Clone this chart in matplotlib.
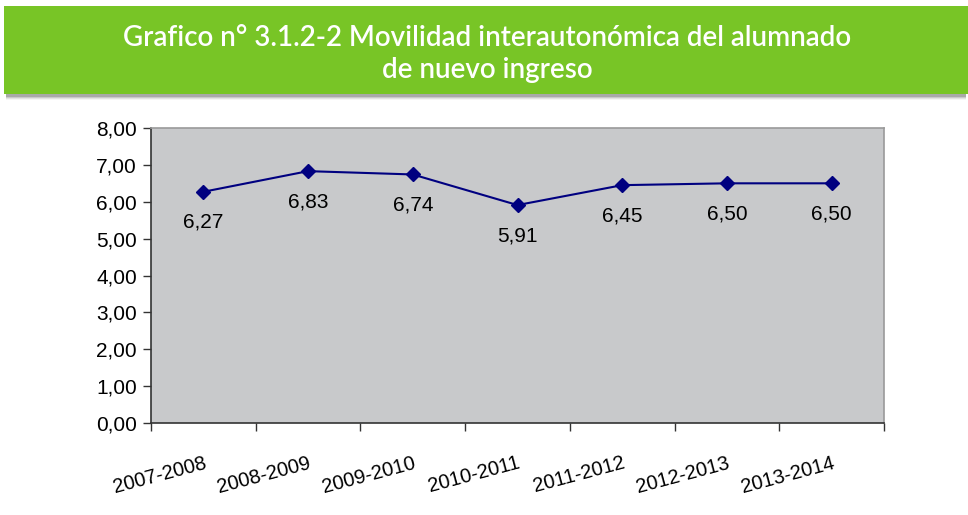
import matplotlib.pyplot as plt
from matplotlib.patches import Rectangle
import numpy as np

# Datos del gráfico
cursos = ['2007-2008', '2008-2009', '2009-2010', '2010-2011',
          '2011-2012', '2012-2013', '2013-2014']
movilidad = [6.27, 6.83, 6.74, 5.91, 6.45, 6.50, 6.50]
y_ticks = [0, 1, 2, 3, 4, 5, 6, 7, 8]

titulo = 'Grafico n° 3.1.2-2 Movilidad interautonómica del alumnado\nde nuevo ingreso'

W, H = 968, 515
fig = plt.figure(figsize=(W / 100, H / 100), dpi=100)
fig.patch.set_facecolor('white')

# Banda verde del título con sombra
for i, a in enumerate([0.04, 0.07, 0.11, 0.16]):
    fig.patches.append(Rectangle((6 / W, 1 - (96 + 4 - i) / H), (W - 8) / W, 8 / H,
                                 transform=fig.transFigure, facecolor='black',
                                 alpha=a, edgecolor='none', zorder=0))
fig.patches.append(Rectangle((4 / W, 1 - 94 / H), (W - 4) / W, 88 / H,
                             transform=fig.transFigure, facecolor='#78C526',
                             edgecolor='none', zorder=1))
fig.text(487 / W, 1 - 54 / H, titulo, ha='center', va='center', color='white',
         fontsize=20, family='Lato', fontweight='semibold', linespacing=1.3,
         zorder=2)

# Área del gráfico
ax = fig.add_axes([151 / W, 1 - 423 / H, 733 / W, 295 / H])
ax.set_facecolor('#C8C9CB')

x = np.arange(len(cursos))
ax.plot(x, movilidad, color='#000080', lw=1.5, marker='D', markersize=7,
        markerfacecolor='#000080', markeredgecolor='#000080', zorder=3)

for xi, v in zip(x, movilidad):
    ax.annotate(f'{v:.2f}'.replace('.', ','), (xi, v), xytext=(0, -22),
                textcoords='offset points', ha='center', va='center',
                fontsize=15, family='Liberation Sans', color='black')

ax.set_xlim(-0.5, len(cursos) - 0.5)
ax.set_ylim(0, 8)

# Marcas del eje x entre categorías
ax.set_xticks(np.arange(len(cursos) + 1) - 0.5)
ax.set_xticklabels([])
ax.set_xticks(x, minor=True)
ax.set_xticklabels(cursos, minor=True, rotation=15, ha='right',
                   rotation_mode='anchor', fontsize=14.5, family='Liberation Sans')
ax.tick_params(axis='x', which='minor', length=0, pad=22)
ax.tick_params(axis='x', which='major', length=6, width=1, color='#333333')

ax.set_yticks(y_ticks)
ax.set_yticklabels([f'{t:.2f}'.replace('.', ',') for t in y_ticks],
                   fontsize=15, family='Liberation Sans')
ax.tick_params(axis='y', length=6, width=1, color='#333333', pad=4)

for s in ['left', 'bottom']:
    ax.spines[s].set_color('#333333')
    ax.spines[s].set_linewidth(1.2)
for s in ['top', 'right']:
    ax.spines[s].set_color('#9a9a9a')
    ax.spines[s].set_linewidth(1.2)

fig.savefig('out.png', dpi=100)
